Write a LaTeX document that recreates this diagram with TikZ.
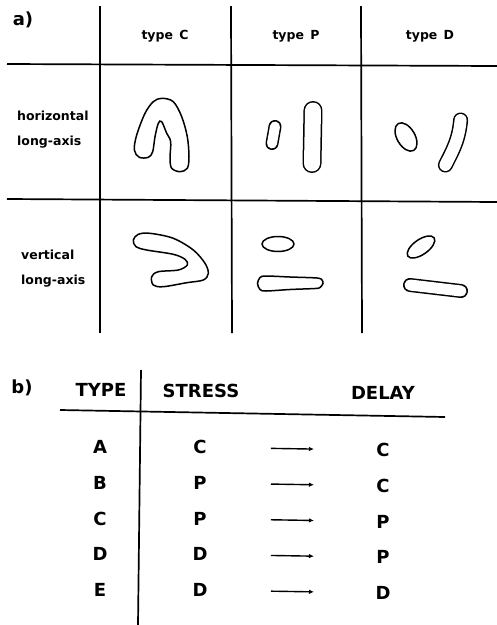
\documentclass[tikz,border=0pt]{standalone}
\usepackage{fontspec}
\setmainfont{DejaVu Sans}
\usetikzlibrary{
    arrows.meta,
    positioning,
}

\tikzset{
    rule/.style={line width=1.7pt},
    blob/.style={line width=1.5pt},
    capsule/.style={line width=1.5pt, double=white, line cap=round},
    lab/.style={font=\fontsize{12.5}{25}\selectfont\bfseries, inner sep=1pt},
    head/.style={font=\fontsize{18}{24}\selectfont\bfseries, inner sep=1pt},
    arr/.style={-{Latex[length=5pt,width=4.5pt]}, line width=1.4pt},
}

\begin{document}
\begin{tikzpicture}[x=1pt,y=-1pt]
        \useasboundingbox (0,0) rectangle (497,625);

        % a) the grid
        \draw[rule] (7,64) -- (497,66);
        \draw[rule] (7,199) -- (497,202);
        \draw[rule] (100,6) -- (100,333);
        \draw[rule] (231,6) -- (232,333);
        \draw[rule] (361,6) -- (362,333);

        \node[head] (parta) at (23,20) {a)};
        \node[lab] (typeC) at (165,36) {type\hspace{0.5em}C};
        \node[lab] (typeP) at (296,36) {type\hspace{0.5em}P};
        \node[lab] (typeD) at (430,36) {type\hspace{0.5em}D};
        \node[lab, align=left, anchor=west] (horiz) at (16,130) {horizontal\\long-axis};
        \node[lab, align=left, anchor=west] (vert) at (20,269) {vertical\\long-axis};

        % horizontal long-axis
        \draw[blob] plot[smooth cycle, tension=0.55] coordinates {
            (161.7,98.3) (173.3,101.7) (181.7,116.7) (187.3,136.7) (189,156.7)
            (187.3,168.3) (180,171.7) (171.7,168.3) (170,158.3) (170.7,141.7)
            (166.7,133.3) (161.7,121.7) (158.3,123.3) (155,136.7) (152.7,151.7)
            (148.3,157.3) (139.3,157.3) (134.3,150) (136.7,135) (145,113.3)
            (153.3,101.7)};
        \draw[capsule, double distance=10pt] (275,126.5) -- (272,143.5);
        \draw[capsule, double distance=16pt] (313,110.5) -- (312,163.5);
        \draw[blob, rotate around={-60:(406,137)}] (406,137) ellipse[x radius=15.5, y radius=9];
        \draw[capsule, double distance=12pt] (460.6,120) .. controls (459,140) and (452,152) .. (445.4,165);

        % vertical long-axis
        \draw[blob] plot[smooth cycle, tension=0.55] coordinates {
            (138.3,234.3) (150,233.3) (173.3,238.3) (193.3,250) (205,263.3)
            (208.3,273.3) (203.3,280) (186.7,282.7) (163.3,286.7) (153.3,285)
            (151.7,276.7) (158.3,271.7) (178.3,270) (187.3,265) (185,259.3)
            (173.3,254.3) (146.7,250) (136,246.7) (133.3,240)};
        \draw[blob] (278,244) ellipse[x radius=16, y radius=7.5];
        \draw[blob] plot[smooth cycle, tension=0.5] coordinates {
            (257.5,283.5) (260,277.5) (266,276) (290,277) (317,278) (322,280)
            (323,283.5) (320,287.5) (315,288.5) (290,289.5) (266,291) (260,289.5)};
        \draw[blob, rotate around={35:(421,247)}] (421,247) ellipse[x radius=16, y radius=7.5];
        \draw[capsule, double distance=11pt] (410,285) -- (461,291);

        % b) the table
        \node[head] (partb) at (22,388) {b)};
        \node[head] (type) at (101,390) {TYPE};
        \node[head] (stress) at (201,391) {STRESS};
        \node[head] (delay) at (383,393) {DELAY};
        \draw[rule] (60,410) -- (445,417);
        \draw[rule] (141,370) -- (138,625);

        \foreach \t/\s/\d [count=\i] in {A/C/C, B/P/C, C/P/P, D/D/P, E/D/D}{
            \pgfmathsetmacro\yy{411.5+35.7*\i}
            \node[head] (t\i) at (100,\yy) {\t};
            \node[head] (s\i) at (200,\yy) {\s};
            \node[head] (d\i) at (383,\yy+3) {\d};
            \draw[arr, shorten <=71pt, shorten >=69pt] (s\i.center) -- (d\i.center);
        }
    \end{tikzpicture}
\end{document}
